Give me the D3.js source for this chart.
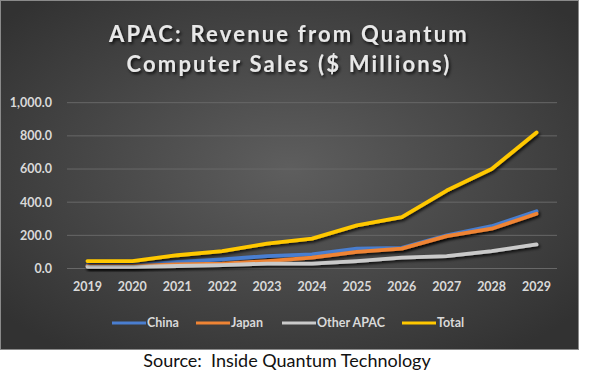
<!DOCTYPE html>
<html>
<head>
<meta charset="utf-8">
<script src="https://cdn.jsdelivr.net/npm/d3@7"></script>
<style>
  html, body { margin: 0; padding: 0; background: #fff; }
  svg { display: block; }
</style>
</head>
<body>
<div id="chart"></div>
<script>
const years = ["2019", "2020", "2021", "2022", "2023", "2024", "2025", "2026", "2027", "2028", "2029"];
const china = [20, 20, 40, 55, 75, 85, 120, 125, 200, 255, 345];
const japan = [15, 15, 25, 30, 45, 65, 100, 120, 195, 240, 330];
const otherApac = [10, 10, 15, 20, 30, 30, 45, 65, 75, 105, 145];
const total = [45, 45, 80, 105, 150, 180, 260, 310, 470, 600, 820];
const yTicks = [0, 200, 400, 600, 800, 1000];

const series = [
  { name: "China", values: china, color: "#4a7ed0" },
  { name: "Japan", values: japan, color: "#ef8434" },
  { name: "Other APAC", values: otherApac, color: "#cacaca" },
  { name: "Total", values: total, color: "#ffc800" }
];

const width = 600, height = 372;
const box = { w: 578, h: 349 };
const labelFont = "Lato, sans-serif";

const svg = d3.select("#chart").append("svg")
  .attr("width", width)
  .attr("height", height);

const defs = svg.append("defs");

const grad = defs.append("radialGradient")
  .attr("id", "bg")
  .attr("cx", "50%").attr("cy", "48%").attr("r", "65%");
grad.append("stop").attr("offset", "0%").attr("stop-color", "#5e5e5e");
grad.append("stop").attr("offset", "100%").attr("stop-color", "#323232");

const shadow = defs.append("filter").attr("id", "shadow")
  .attr("x", "-10%").attr("y", "-10%").attr("width", "120%").attr("height", "130%");
shadow.append("feDropShadow")
  .attr("dx", 1.5).attr("dy", 2).attr("stdDeviation", 1.5)
  .attr("flood-color", "#000").attr("flood-opacity", 0.8);

// chart box
svg.append("rect")
  .attr("x", 0.5).attr("y", 0.5)
  .attr("width", box.w).attr("height", box.h)
  .attr("fill", "url(#bg)")
  .attr("stroke", "#8a8a8a")
  .attr("stroke-width", 1);

const x = d3.scalePoint()
  .domain(years)
  .range([65, 559])
  .padding(0.5);

const y = d3.scaleLinear()
  .domain([0, 1000])
  .range([268.5, 102.7]);

// gridlines
svg.append("g")
  .selectAll("line")
  .data(yTicks)
  .join("line")
  .attr("x1", 67).attr("x2", 557)
  .attr("y1", (d) => y(d)).attr("y2", (d) => y(d))
  .attr("stroke", "#686868")
  .attr("stroke-width", 1);

// y axis labels
svg.append("g")
  .selectAll("text")
  .data(yTicks)
  .join("text")
  .attr("x", 52)
  .attr("y", (d) => y(d))
  .attr("dy", "0.35em")
  .attr("text-anchor", "end")
  .style("font-family", labelFont)
  .style("font-size", "12.5px")
  .style("font-weight", "700")
  .style("fill", "#d9d9d9")
  .text((d) => d3.format(",.1f")(d));

// x axis labels
svg.append("g")
  .selectAll("text")
  .data(years)
  .join("text")
  .attr("x", (d) => x(d))
  .attr("y", 287)
  .attr("dy", "0.35em")
  .attr("text-anchor", "middle")
  .style("font-family", labelFont)
  .style("font-size", "12.5px")
  .style("font-weight", "700")
  .style("fill", "#d9d9d9")
  .text((d) => d);

const line = d3.line()
  .x((d, i) => x(years[i]))
  .y((d) => y(d));

svg.append("g")
  .selectAll("path")
  .data(series)
  .join("path")
  .attr("d", (s) => line(s.values))
  .attr("fill", "none")
  .attr("stroke", (s) => s.color)
  .attr("stroke-width", 3.8)
  .attr("stroke-linejoin", "round")
  .attr("stroke-linecap", "round")
  .attr("filter", "url(#shadow)");

// title
const title = svg.append("text")
  .attr("text-anchor", "middle")
  .style("font-family", labelFont)
  .style("font-size", "22px")
  .style("font-weight", "700")
  .style("letter-spacing", "2.2px")
  .style("fill", "#e8e8e8")
  .attr("filter", "url(#shadow)");
title.append("tspan").attr("x", 289).attr("y", 42).text("APAC: Revenue from Quantum");
title.append("tspan").attr("x", 289).attr("y", 72).text("Computer Sales ($ Millions)");

// legend
const legendPos = [112, 196, 282, 402];
const legend = svg.append("g");
series.forEach((s, i) => {
  const row = legend.append("g")
    .attr("transform", "translate(" + legendPos[i] + ",323)");
  row.append("line")
    .attr("x1", 0).attr("x2", 34)
    .attr("stroke", s.color)
    .attr("stroke-width", 3);
  row.append("text")
    .attr("x", 35)
    .attr("dy", "0.35em")
    .style("font-family", labelFont)
    .style("font-size", "12.5px")
    .style("font-weight", "700")
    .style("fill", "#d9d9d9")
    .text(s.name);
});

// source
svg.append("text")
  .attr("x", 287)
  .attr("y", 367)
  .attr("text-anchor", "middle")
  .style("font-family", labelFont)
  .style("font-size", "18px")
  .style("white-space", "pre")
  .style("fill", "#111")
  .text("Source:  Inside Quantum Technology");
</script>
</body>
</html>
